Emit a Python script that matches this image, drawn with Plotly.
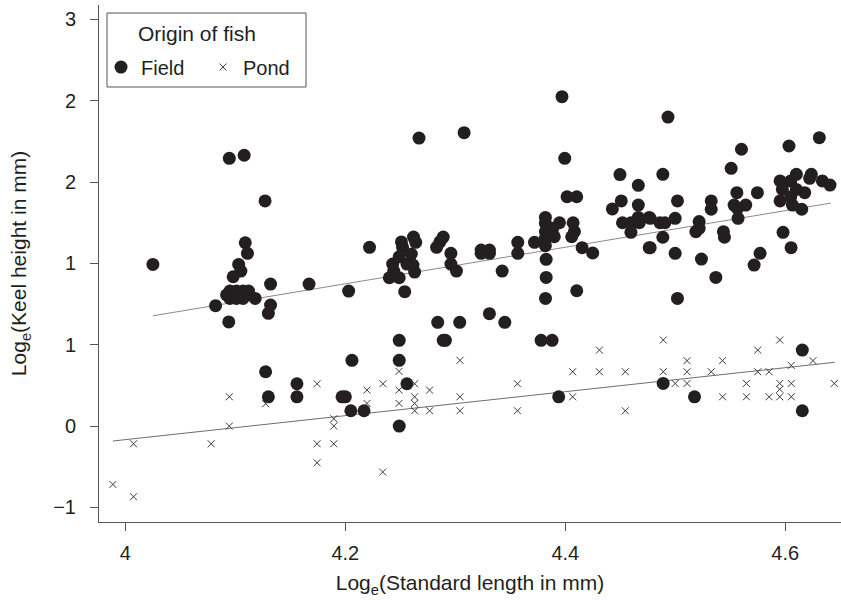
import plotly.graph_objects as go

# ---- data ----
field_x = [4.025, 4.0945, 4.108, 4.127, 4.109, 4.111, 4.103, 4.105, 4.098, 4.132, 4.167,
           4.095, 4.101, 4.107, 4.112, 4.095, 4.101, 4.107, 4.118, 4.092, 4.082, 4.132, 4.130, 4.094,
           4.1275, 4.130, 4.206, 4.156, 4.156, 4.197, 4.200, 4.205,
           4.254, 4.382, 4.284, 4.304, 4.331, 4.345, 4.249, 4.289, 4.291, 4.378, 4.388, 4.249, 4.256,
           4.217, 4.249, 4.394, 4.489, 4.5175, 4.6155, 4.6155,
           4.267, 4.308, 4.222, 4.251, 4.262, 4.264, 4.289, 4.286, 4.283, 4.252, 4.249, 4.260, 4.256,
           4.2615, 4.243, 4.296, 4.296, 4.301, 4.263, 4.244, 4.240, 4.249, 4.203,
           4.3235, 4.331, 4.3235, 4.331,
           4.397, 4.3995, 4.4016, 4.4104, 4.4497, 4.4664, 4.4509, 4.4428, 4.4664, 4.452, 4.4597, 4.4673,
           4.4664, 4.4597, 4.4763, 4.4763, 4.3819, 4.3819, 4.384, 4.3886, 4.3819, 4.387, 4.390, 4.3819,
           4.3819, 4.3947, 4.4071, 4.4083, 4.4058, 4.4153, 4.4249, 4.3568, 4.3568, 4.372, 4.3426,
           4.3826, 4.3826, 4.4104,
           4.4934, 4.631, 4.6034, 4.5602, 4.5508, 4.4887, 4.6101, 4.6237, 4.6222, 4.5953, 4.605, 4.6337,
           4.6407, 4.5974, 4.6101, 4.6177, 4.556, 4.5747, 4.5953, 4.605, 4.6065, 4.615, 4.5327, 4.5327,
           4.5535, 4.5565, 4.5641, 4.5571, 4.502, 4.4772, 4.4861, 4.4906, 4.4999, 4.5217, 4.5187, 4.5217,
           4.5438, 4.5447, 4.598, 4.4887, 4.4772, 4.4999, 4.5238, 4.5771, 4.6053, 4.5717, 4.5369, 4.502]
field_y = [0.994, 1.646, 1.665, 1.384, 1.127, 1.062, 0.994, 0.953, 0.918, 0.873, 0.873,
           0.830, 0.830, 0.830, 0.830, 0.785, 0.785, 0.785, 0.785, 0.806, 0.740, 0.744, 0.693, 0.640,
           0.334, 0.180, 0.404, 0.260, 0.180, 0.180, 0.180, 0.094,
           0.826, 0.785, 0.638, 0.638, 0.691, 0.638, 0.527, 0.527, 0.527, 0.527, 0.527, 0.404, 0.260,
           0.094, 0.000, 0.180, 0.262, 0.180, 0.467, 0.094,
           1.771, 1.804, 1.099, 1.132, 1.162, 1.130, 1.162, 1.132, 1.099, 1.099, 1.041, 1.058, 0.996,
           0.990, 0.996, 1.062, 0.996, 0.953, 0.947, 0.953, 0.912, 0.912, 0.830,
           1.082, 1.082, 1.062, 1.062,
           2.025, 1.646, 1.410, 1.410, 1.546, 1.480, 1.384, 1.335, 1.359, 1.250, 1.250, 1.250,
           1.283, 1.191, 1.283, 1.097, 1.283, 1.247, 1.216, 1.216, 1.196, 1.175, 1.164, 1.154,
           1.109, 1.250, 1.250, 1.195, 1.164, 1.097, 1.064, 1.130, 1.062, 1.130, 0.953,
           1.025, 0.914, 0.832,
           1.900, 1.773, 1.722, 1.702, 1.585, 1.548, 1.548, 1.548, 1.523, 1.507, 1.507, 1.507,
           1.482, 1.455, 1.455, 1.435, 1.435, 1.435, 1.384, 1.410, 1.359, 1.333, 1.384, 1.333,
           1.359, 1.339, 1.359, 1.277, 1.384, 1.277, 1.250, 1.250, 1.277, 1.257, 1.195, 1.216,
           1.195, 1.161, 1.191, 1.161, 1.097, 1.062, 1.027, 1.062, 1.097, 0.990, 0.914, 0.785]

pond_x = [3.9886, 4.0074, 4.0074, 4.078, 4.0945, 4.0945, 4.1275,
          4.1743, 4.1895, 4.1895, 4.1743, 4.1895, 4.1743,
          4.3042, 4.2488, 4.2342, 4.263, 4.2197, 4.2488, 4.2766, 4.3565, 4.263, 4.3042, 4.2197,
          4.2488, 4.263, 4.263, 4.2766, 4.3042, 4.3565, 4.234,
          4.4891, 4.595, 4.431, 4.575, 4.5107, 4.543, 4.6252, 4.6055, 4.4067, 4.431, 4.4546,
          4.4891, 4.5107, 4.5327, 4.575, 4.5853, 4.4999, 4.5107, 4.5647, 4.595, 4.6055, 4.6446,
          4.595, 4.4067, 4.543, 4.5647, 4.5853, 4.595, 4.6055, 4.4546]
pond_y = [-0.359, -0.435, -0.109, -0.109, 0.000, 0.180, 0.137,
          0.260, 0.045, 0.000, -0.109, -0.109, -0.226,
          0.404, 0.336, 0.260, 0.260, 0.221, 0.221, 0.221, 0.260, 0.180, 0.180, 0.139,
          0.139, 0.139, 0.094, 0.094, 0.094, 0.094, -0.283,
          0.529, 0.529, 0.467, 0.467, 0.402, 0.402, 0.402, 0.373, 0.334, 0.334, 0.334,
          0.334, 0.334, 0.334, 0.334, 0.334, 0.262, 0.262, 0.262, 0.262, 0.262, 0.262,
          0.226, 0.180, 0.180, 0.180, 0.180, 0.180, 0.180, 0.094]

fit_field_x = [4.025, 4.6415]
fit_field_y = [0.678, 1.371]
fit_pond_x = [3.9886, 4.645]
fit_pond_y = [-0.092, 0.392]

x_tickvals = [4.0, 4.2, 4.4, 4.6]
x_ticktext = ["4", "4.2", "4.4", "4.6"]
y_tickvals = [-0.5, 0.0, 0.5, 1.0, 1.5, 2.0, 2.5]
y_ticktext = ["\u22121", "0", "1", "1", "2", "2", "3"]
legend_title = "Origin of fish"

INK = "#231f20"
AXIS = "#555555"
FONT = "Liberation Sans, Arial, sans-serif"

fig = go.Figure()
fig.add_trace(go.Scatter(x=fit_field_x, y=fit_field_y, mode="lines",
                         line=dict(color="#8a8a8a", width=1), showlegend=False, hoverinfo="skip"))
fig.add_trace(go.Scatter(x=fit_pond_x, y=fit_pond_y, mode="lines",
                         line=dict(color="#6e6e6e", width=1), showlegend=False, hoverinfo="skip"))
fig.add_trace(go.Scatter(x=field_x, y=field_y, mode="markers", name="Field",
                         marker=dict(symbol="circle", size=13, color=INK, line=dict(width=0))))
fig.add_trace(go.Scatter(x=pond_x, y=pond_y, mode="markers", name="Pond",
                         marker=dict(symbol="x-thin-open", size=7, color="#3a3a3a",
                                     line=dict(width=1, color="#3a3a3a"))))

# legend frame and title (legend box drawn as a shape for exact spacing)
fig.add_shape(type="rect", xref="paper", yref="paper",
              x0=0.0108, x1=0.279, y0=0.8414, y1=0.9845,
              line=dict(color=AXIS, width=1), fillcolor="white", layer="below")
fig.add_annotation(text=legend_title, xref="paper", yref="paper", x=0.132, y=0.9458,
                   xanchor="center", yanchor="middle", showarrow=False,
                   font=dict(size=21, color=INK, family=FONT))

fig.update_layout(
    width=841, height=600,
    margin=dict(l=99, r=0, t=5, b=78),
    paper_bgcolor="white", plot_bgcolor="white",
    font=dict(family=FONT, color=INK, size=20),
    showlegend=True,
    legend=dict(
        x=0.0027, y=0.880, xanchor="left", yanchor="middle",
        orientation="h",
        font=dict(size=20),
        borderwidth=0, bgcolor="rgba(0,0,0,0)",
        itemsizing="trace",
        entrywidth=57, entrywidthmode="pixels",
    ),
    xaxis=dict(
        range=[3.976, 4.6507], tickvals=x_tickvals, ticktext=x_ticktext,
        showgrid=False, zeroline=False, showline=True, linecolor=AXIS, linewidth=1,
        ticks="outside", ticklen=8, tickcolor=AXIS, tickwidth=1,
        tickfont=dict(size=20), ticklabelstandoff=5,
        title=dict(text="Log<sub>e</sub>(Standard length in mm)", font=dict(size=21), standoff=12),
    ),
    yaxis=dict(
        range=[-0.590, 2.589], tickvals=y_tickvals, ticktext=y_ticktext,
        showgrid=False, zeroline=False, showline=True, linecolor=AXIS, linewidth=1,
        ticks="outside", ticklen=8, tickcolor=AXIS, tickwidth=1,
        tickfont=dict(size=20), ticklabelstandoff=10,
        title=dict(text="Log<sub>e</sub>(Keel height in mm)", font=dict(size=21), standoff=20),
    ),
)

fig.write_html("out.html", config={"displayModeBar": False},
               post_script="document.body.style.margin='0';document.body.style.overflow='hidden';")
